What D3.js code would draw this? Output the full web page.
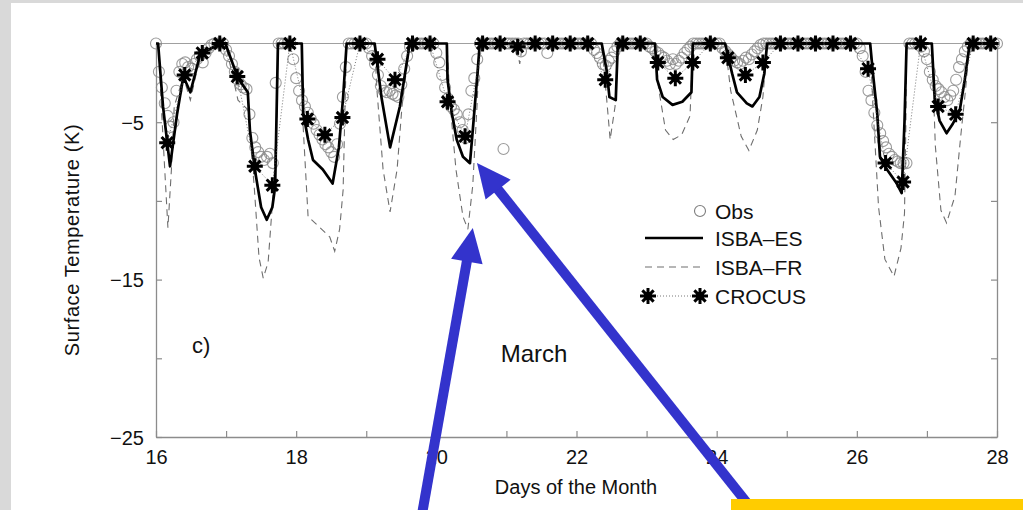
<!DOCTYPE html>
<html>
<head>
<meta charset="utf-8">
<script src="https://cdn.jsdelivr.net/npm/d3@7"></script>
<style>
body { margin: 0; background: #d9d9d9; }
svg { display: block; font-family: "Liberation Sans", Arial, Helvetica, sans-serif; }
</style>
</head>
<body>
<div id="chart"></div>
<script>
// ISBA-ES (solid line) vertices
var esDays = [16.00, 16.03, 16.10, 16.20, 16.30, 16.39, 16.49, 16.63, 16.91, 16.99,
	17.17, 17.31, 17.34, 17.41, 17.50, 17.58, 17.66, 17.70, 17.74,
	18.08, 18.10, 18.17, 18.24, 18.38, 18.52, 18.61, 18.67, 18.72,
	19.12, 19.22, 19.34, 19.48, 19.62,
	20.15, 20.16, 20.22, 20.29, 20.38, 20.48, 20.52, 20.58, 20.62,
	22.36, 22.43, 22.47, 22.56, 22.59,
	23.12, 23.15, 23.23, 23.37, 23.51, 23.64, 23.66,
	24.12, 24.22, 24.29, 24.43, 24.51, 24.61, 24.68, 24.72,
	26.19, 26.23, 26.29, 26.33, 26.43, 26.57, 26.64, 26.68, 26.71,
	27.07, 27.11, 27.18, 27.28, 27.37, 27.47, 27.54, 27.61, 28.00];
var esTemps = [0, 0, -4.0, -7.8, -4.5, -2.1, -3.1, -0.7, 0, 0,
	-2.2, -3.1, -5.5, -8.0, -10.4, -11.2, -10.4, -9.1, 0,
	0, -4.4, -6.1, -7.4, -8.0, -8.9, -6.6, -3.4, 0,
	0, -3.5, -6.6, -4.0, 0,
	0, -2.3, -4.4, -6.1, -7.2, -7.6, -5.5, -2.3, 0,
	0, -1.7, -3.4, -3.6, 0,
	0, -2.3, -3.4, -3.9, -3.7, -3.1, 0,
	0, -1.9, -3.1, -3.8, -4.0, -3.4, -1.9, 0,
	0, -1.9, -4.4, -7.2, -8.0, -8.9, -9.5, -5.0, 0,
	0, -3.4, -4.9, -5.7, -5.1, -4.2, -2.3, 0, 0];

// ISBA-FR (dashed line) vertices
var frDays = [16.00, 16.03, 16.10, 16.17, 16.22, 16.26, 16.39, 16.49, 16.63, 16.91, 16.99,
	17.17, 17.31, 17.40, 17.47, 17.53, 17.60, 17.68, 17.73, 17.74,
	18.08, 18.10, 18.17, 18.34, 18.48, 18.55, 18.62, 18.67, 18.70, 18.72,
	19.12, 19.15, 19.24, 19.34, 19.44, 19.51, 19.62,
	20.15, 20.20, 20.28, 20.38, 20.45, 20.52, 20.58, 20.62,
	21.14, 21.19, 21.23,
	22.36, 22.43, 22.48, 22.55, 22.59,
	23.12, 23.17, 23.27, 23.38, 23.50, 23.62, 23.66,
	24.12, 24.20, 24.35, 24.46, 24.58, 24.66, 24.72,
	26.19, 26.23, 26.31, 26.40, 26.53, 26.63, 26.68, 26.70, 26.71,
	27.07, 27.12, 27.20, 27.28, 27.40, 27.48, 27.55, 27.61, 28.00];
var frTemps = [0, 0, -6.0, -11.7, -8.0, -4.0, -2.1, -3.6, -0.8, 0, 0,
	-3.6, -4.2, -9.0, -13.6, -14.9, -13.9, -9.0, -4.0, 0,
	0, -5.3, -11.0, -11.7, -12.3, -13.2, -11.8, -9.3, -3.4, 0,
	0, -2.8, -8.0, -10.7, -8.0, -4.0, 0,
	0, -4.0, -8.0, -11.0, -11.8, -9.0, -4.0, 0,
	0, -1.3, 0,
	0, -3.5, -6.1, -4.0, 0,
	0, -2.8, -5.5, -6.1, -5.8, -4.6, 0,
	0, -3.0, -5.9, -6.8, -5.5, -3.4, 0,
	0, -4.0, -10.4, -13.7, -14.8, -13.0, -10.8, -5.0, 0,
	0, -6.5, -10.6, -11.4, -9.7, -6.0, -3.0, 0, 0];

// Obs: hourly from day 16 (one row per day)
var obsStart = 16, obsStep = 1 / 24;
var obsTemps = [
	0, -1.8, -2.8, -3.8, -4.6, -5.3, -5.0, -3.0, -1.8, -1.3, -1.2, -1.5, -1.6, -1.3, -1.0, -0.8, -1.2, -0.6, -0.3, -0.1, 0, 0, 0, 0,
	-0.4, -0.8, -1.3, -1.8, -2.3, -2.6, -2.8, -2.9, -4.5, -6.0, -6.6, -6.9, -7.2, -7.4, -7.2, -7.0, -7.6, -2.5, 0, 0, 0, 0, 0, -1.0,
	-2.2, -3.0, -3.6, -4.0, -4.4, -4.8, -5.1, -5.5, -5.8, -6.1, -6.4, -6.6, -6.9, -7.2, -6.4, -5.1, -3.4, -1.5, 0, 0, 0, 0, 0, 0,
	0, -0.3, -0.8, -1.3, -2.0, -2.7, -3.0, -3.1, -3.0, -3.2, -3.3, -3.4, -2.6, -1.6, -0.8, -0.2, 0, 0, 0, 0, 0, 0, 0, 0,
	-0.6, -1.2, -2.0, -2.8, -3.5, -4.0, -4.2, -4.5, -5.0, -5.5, -6.0, -4.5, -3.0, -2.2, -1.0, 0, 0, 0, 0, 0, 0, 0, 0, -6.7,
	0, 0, 0, 0, 0, -0.5, 0, 0, 0, 0, 0, 0, 0, 0, -0.6, 0, 0, 0, 0, 0, 0, 0, 0, 0,
	0, 0, 0, 0, 0, 0, -0.4, -0.6, -0.9, -1.3, -1.4, -1.1, -0.9, -0.5, -0.2, 0, 0, 0, 0, 0, 0, 0, 0, 0,
	0, -0.2, -0.3, -0.5, -0.6, -0.8, -0.9, -1.1, -1.3, -1.0, -1.3, -1.1, -0.9, -0.6, -0.4, -0.2, 0, 0, 0, 0, 0, 0, 0, 0,
	0, 0, -0.3, -0.5, -0.7, -0.9, -1.1, -1.2, -1.3, -1.1, -0.9, -1.0, -0.7, -0.5, -0.3, -0.1, 0, 0, 0, 0, 0, 0, 0, 0,
	0, 0, 0, 0, 0, 0, 0, 0, 0, 0, 0, 0, 0, 0, 0, 0, 0, 0, 0, 0, 0, 0, 0, 0,
	0, -0.3, -0.8, -1.8, -3.0, -3.6, -4.4, -5.2, -5.7, -6.2, -6.6, -7.0, -7.2, -7.4, -7.5, -7.6, -7.6, -7.6, 0, 0, 0, 0, -0.2, -0.5,
	-1.0, -1.8, -2.3, -2.7, -2.9, -3.1, -3.4, -3.6, -3.3, -3.0, -2.3, -1.5, -1.0, -0.5, -0.2, 0, 0, 0, 0, 0, 0, 0, 0, 0,
	0];

// CROCUS: every 6 hours
var crocusStart = 16.16, crocusStep = 0.25;
var crocusTemps = [
	-6.3, -2.0, -0.6, 0,
	-2.1, -7.8, -9.0, 0,
	-4.8, -5.8, -4.7, 0,
	-1.0, -2.3, 0, 0,
	-3.7, -5.9, 0, 0,
	-0.2, 0, 0, 0,
	0, -2.3, 0, 0,
	-1.2, -2.2, -1.2, 0,
	-0.9, -2.0, -1.2, 0,
	0, 0, 0, 0,
	-1.6, -7.6, -8.8, 0,
	-4.0, -4.5, 0, 0];

var xTicks = [16, 17, 18, 19, 20, 21, 22, 23, 24, 25, 26, 27, 28];
var yTicks = [0, -5, -10, -15, -20, -25];
var legendNames = ["Obs", "ISBA\u2013ES", "ISBA\u2013FR", "CROCUS"];

// annotation arrows (tail -> tip), in data units
var arrowTails = [[19.78, -30.3], [24.63, -30.3]];
var arrowTips = [[20.52, -11.72], [20.58, -7.59]];

var W = 1023, H = 510;

var svg = d3.select("#chart").append("svg")
	.attr("width", W)
	.attr("height", H);

// white page
svg.append("rect")
	.attr("x", 11).attr("y", 3)
	.attr("width", W - 11).attr("height", H - 3)
	.attr("fill", "#ffffff");

var xScale = d3.scaleLinear().domain([16, 28]).range([156, 997]);
var yScale = d3.scaleLinear().domain([0, -25]).range([43.5, 437]);

var axisColor = "#8c8c8c";

// top frame line
svg.append("line")
	.attr("x1", xScale(16)).attr("x2", xScale(28))
	.attr("y1", yScale(0)).attr("y2", yScale(0))
	.attr("stroke", "#a0a0a0").attr("stroke-width", 1);

var yAxis = d3.axisLeft(yScale)
	.tickValues(yTicks)
	.tickSizeInner(-6)
	.tickSizeOuter(0)
	.tickPadding(12)
	.tickFormat(function(d) {
		return (d % 10 === -5) ? "\u2212" + Math.abs(d) : "";
	});

var gy = svg.append("g")
	.attr("transform", "translate(" + xScale(16) + ",0)")
	.call(yAxis);

var yRight = d3.axisRight(yScale)
	.tickValues(yTicks)
	.tickSizeInner(-6)
	.tickSizeOuter(0)
	.tickFormat("");

var gr = svg.append("g")
	.attr("transform", "translate(" + xScale(28) + ",0)")
	.call(yRight);

var xAxis = d3.axisBottom(xScale)
	.tickValues(xTicks)
	.tickSizeInner(-6)
	.tickSizeOuter(0)
	.tickPadding(13)
	.tickFormat(function(d) {
		return d % 2 === 0 ? d : "";
	});

var gx = svg.append("g")
	.attr("transform", "translate(0," + yScale(-25) + ")")
	.call(xAxis);

[gy, gr, gx].forEach(function(g) {
	g.selectAll(".domain").attr("stroke", axisColor).attr("stroke-width", 1.3);
	g.selectAll(".tick line").attr("stroke", axisColor).attr("stroke-width", 1.2);
	g.selectAll("text")
		.attr("fill", "#111")
		.style("font-size", "20px")
		.style("font-family", "'Liberation Sans', Arial, sans-serif");
});
gy.selectAll("text").attr("dy", "0.35em");

// axis titles
svg.append("text")
	.attr("transform", "translate(72,240) rotate(-90)")
	.attr("text-anchor", "middle")
	.attr("dominant-baseline", "central")
	.style("font-size", "20px")
	.style("letter-spacing", "0.6px")
	.attr("fill", "#111")
	.text("Surface Temperature (K)");

svg.append("text")
	.attr("x", 576).attr("y", 487)
	.attr("text-anchor", "middle")
	.attr("dominant-baseline", "central")
	.style("font-size", "20px")
	.attr("fill", "#111")
	.text("Days of the Month");

svg.append("text")
	.attr("x", 534).attr("y", 353)
	.attr("text-anchor", "middle")
	.attr("dominant-baseline", "central")
	.style("font-size", "24px")
	.attr("fill", "#111")
	.text("March");

svg.append("text")
	.attr("x", 192).attr("y", 345)
	.attr("dominant-baseline", "central")
	.style("font-size", "22px")
	.attr("fill", "#111")
	.text("c)");

// series
var frData = frDays.map(function(d, i) { return [d, frTemps[i]]; });
var esData = esDays.map(function(d, i) { return [d, esTemps[i]]; });
var obsData = obsTemps.map(function(t, i) { return [obsStart + i * obsStep, t]; });
var crocusData = crocusTemps.map(function(t, i) { return [crocusStart + i * crocusStep, t]; });

var line = d3.line()
	.x(function(d) { return xScale(d[0]); })
	.y(function(d) { return yScale(d[1]); });

svg.append("path")
	.datum(frData)
	.attr("d", line)
	.attr("fill", "none")
	.attr("stroke", "#6e6e6e")
	.attr("stroke-width", 1.1)
	.attr("stroke-dasharray", "7,5");

svg.append("g").selectAll("circle")
	.data(obsData)
	.enter()
	.append("circle")
	.attr("cx", function(d) { return xScale(d[0]); })
	.attr("cy", function(d) { return yScale(d[1]); })
	.attr("r", 5.5)
	.attr("fill", "none")
	.attr("stroke", "#8a8a8a")
	.attr("stroke-opacity", 0.85)
	.attr("stroke-width", 1.1);

svg.append("path")
	.datum(esData)
	.attr("d", line)
	.attr("fill", "none")
	.attr("stroke", "#000")
	.attr("stroke-width", 2.7)
	.attr("stroke-linejoin", "round");

svg.append("path")
	.datum(crocusData)
	.attr("d", line)
	.attr("fill", "none")
	.attr("stroke", "#555")
	.attr("stroke-width", 0.8)
	.attr("stroke-dasharray", "1,2");

// 8-armed star
var starType = {
	draw: function(ctx, size) {
		var r = Math.sqrt(size) / 2;
		for (var k = 0; k < 4; k++) {
			var a = k * Math.PI / 4;
			ctx.moveTo(r * Math.cos(a), r * Math.sin(a));
			ctx.lineTo(-r * Math.cos(a), -r * Math.sin(a));
		}
	}
};
var star = d3.symbol().type(starType).size(256);

function drawStar(g, x, y) {
	g.append("path")
		.attr("d", star)
		.attr("transform", "translate(" + x + "," + y + ")")
		.attr("stroke", "#000")
		.attr("stroke-width", 3)
		.attr("fill", "none");
	g.append("circle")
		.attr("cx", x).attr("cy", y).attr("r", 4)
		.attr("fill", "#000");
}

var starG = svg.append("g");
crocusData.forEach(function(d) {
	drawStar(starG, xScale(d[0]), yScale(d[1]));
});

// legend
var leg = svg.append("g");
var legY = [211, 238, 267, 296];
leg.append("circle")
	.attr("cx", 700).attr("cy", legY[0]).attr("r", 5.5)
	.attr("fill", "none").attr("stroke", "#7d7d7d").attr("stroke-width", 1.1);
leg.append("line")
	.attr("x1", 645).attr("x2", 703).attr("y1", legY[1]).attr("y2", legY[1])
	.attr("stroke", "#000").attr("stroke-width", 2.7);
leg.append("line")
	.attr("x1", 645).attr("x2", 703).attr("y1", legY[2]).attr("y2", legY[2])
	.attr("stroke", "#6e6e6e").attr("stroke-width", 1.1).attr("stroke-dasharray", "7,5");
leg.append("line")
	.attr("x1", 648).attr("x2", 700).attr("y1", legY[3]).attr("y2", legY[3])
	.attr("stroke", "#555").attr("stroke-width", 0.8).attr("stroke-dasharray", "1,2");
drawStar(leg, 648, legY[3]);
drawStar(leg, 700, legY[3]);
leg.selectAll("text.lab")
	.data(legendNames)
	.enter()
	.append("text")
	.attr("class", "lab")
	.attr("x", 715)
	.attr("y", function(d, i) { return legY[i]; })
	.attr("dominant-baseline", "central")
	.style("font-size", "21px")
	.attr("fill", "#111")
	.text(function(d) { return d; });

// blue arrows
var arrowColor = "#3333cc";
arrowTails.forEach(function(t, i) {
	var x0 = xScale(t[0]), y0 = yScale(t[1]);
	var x1 = xScale(arrowTips[i][0]), y1 = yScale(arrowTips[i][1]);
	var dx = x1 - x0, dy = y1 - y0, len = Math.sqrt(dx * dx + dy * dy);
	var ux = dx / len, uy = dy / len;
	var headLen = 34, headW = 16;
	var bx = x1 - ux * headLen, by = y1 - uy * headLen;
	svg.append("line")
		.attr("x1", x0).attr("y1", y0)
		.attr("x2", bx + ux * 2).attr("y2", by + uy * 2)
		.attr("stroke", arrowColor)
		.attr("stroke-width", 10);
	svg.append("path")
		.attr("d", "M" + x1 + "," + y1 +
			"L" + (bx - uy * headW) + "," + (by + ux * headW) +
			"L" + (bx + uy * headW) + "," + (by - ux * headW) + "Z")
		.attr("fill", arrowColor);
});

// yellow box at bottom right
svg.append("rect")
	.attr("x", 731).attr("y", 499)
	.attr("width", W - 731).attr("height", 11)
	.attr("fill", "#ffcc00");
</script>
</body>
</html>
